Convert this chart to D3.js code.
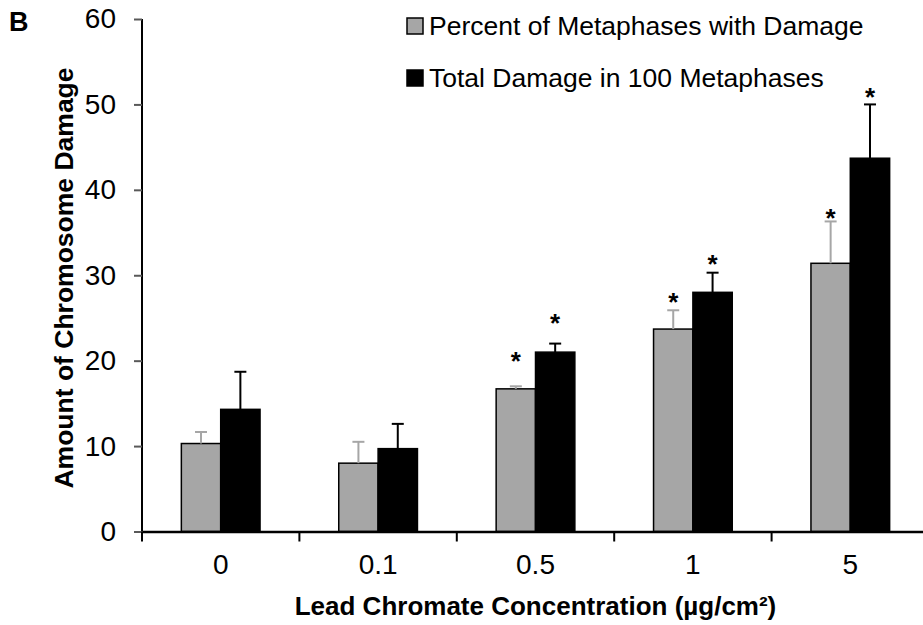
<!DOCTYPE html>
<html>
<head>
<meta charset="utf-8">
<script src="https://cdn.jsdelivr.net/npm/d3@7"></script>
<style>
    body { margin: 0; background: #fff; }
    svg { display: block; font-family: "Liberation Sans", Arial, sans-serif; }
</style>
</head>
<body>
<div id="chart"></div>
<script>
// Chromosome damage vs lead chromate concentration
const categories = ['0', '0.1', '0.5', '1', '5'];
const seriesNames = ['Percent of Metaphases with Damage', 'Total Damage in 100 Metaphases'];
const percentValues = [10.3, 8.0, 16.7, 23.7, 31.4];
const percentErrors = [1.35, 2.5, 0.3, 2.2, 4.9];
const totalValues = [14.3, 9.7, 21.0, 28.0, 43.7];
const totalErrors = [4.4, 2.9, 1.0, 2.3, 6.3];
// asterisk positions (value units), null = no mark
const percentStars = [null, null, 20.5, 27.5, 37.3];
const totalStars = [null, null, 25.0, 31.9, 51.4];
const yTicks = [0, 10, 20, 30, 40, 50, 60];

const width = 923, height = 625;
const plotLeft = 142, plotRight = 929, plotTop = 19, plotBottom = 531.5;

const fills = ['#a6a6a6', '#000000'];
const errColors = ['#a6a6a6', '#000000'];

const svg = d3.select('#chart').append('svg')
    .attr('width', width)
    .attr('height', height);

const x = d3.scaleBand().domain(categories).range([plotLeft, plotRight]);
const xSub = d3.scaleBand().domain([0, 1]).range([0, x.bandwidth()]).paddingOuter(1);
const y = d3.scaleLinear().domain([0, 60]).range([plotBottom, plotTop]);

const series = [
    { values: percentValues, errors: percentErrors, stars: percentStars },
    { values: totalValues, errors: totalErrors, stars: totalStars }
];

// bars
series.forEach((s, si) => {
    svg.append('g').selectAll('rect')
        .data(s.values)
        .join('rect')
        .attr('x', (d, i) => x(categories[i]) + xSub(si))
        .attr('y', d => y(d))
        .attr('width', xSub.bandwidth())
        .attr('height', d => plotBottom - y(d))
        .attr('fill', fills[si])
        .attr('stroke', '#000')
        .attr('stroke-width', 1.5);
});

// error bars
series.forEach((s, si) => {
    const g = svg.append('g').attr('stroke', errColors[si]).attr('stroke-width', 2);
    s.values.forEach((v, i) => {
        const cx = x(categories[i]) + xSub(si) + xSub.bandwidth() / 2;
        g.append('line')
            .attr('x1', cx).attr('x2', cx)
            .attr('y1', y(v)).attr('y2', y(v + s.errors[i]));
        g.append('line')
            .attr('x1', cx - 6).attr('x2', cx + 6)
            .attr('y1', y(v + s.errors[i])).attr('y2', y(v + s.errors[i]));
    });
});

// asterisks
series.forEach((s, si) => {
    s.stars.forEach((st, i) => {
        if (st === null) return;
        const cx = x(categories[i]) + xSub(si) + xSub.bandwidth() / 2;
        svg.append('text')
            .attr('x', cx)
            .attr('y', y(st) + 14)
            .attr('text-anchor', 'middle')
            .style('font-size', '26px')
            .style('font-weight', 'bold')
            .text('*');
    });
});

// y axis
const yAxis = svg.append('g')
    .attr('transform', `translate(${plotLeft},0)`)
    .call(d3.axisLeft(y).tickValues(yTicks).tickSize(8).tickPadding(18));
yAxis.select('.domain').attr('stroke', '#000').attr('stroke-width', 2)
    .attr('d', `M0,${plotTop}V${plotBottom}`);
yAxis.selectAll('.tick line').attr('stroke', '#595959').attr('stroke-width', 2);
yAxis.selectAll('.tick text').style('font-size', '28px').attr('fill', '#000')
    .attr('font-family', null);

// x axis
const xAxis = svg.append('g')
    .attr('transform', `translate(0,${plotBottom})`)
    .call(d3.axisBottom(x).tickSize(0).tickPadding(23));
xAxis.select('.domain').attr('stroke', '#000').attr('stroke-width', 2.5);
xAxis.selectAll('.tick text').style('font-size', '28px').attr('fill', '#000')
    .attr('font-family', null);
// boundary ticks between categories
const bounds = categories.map(c => x(c)).concat([x(categories[categories.length - 1]) + x.bandwidth()]);
svg.append('g').selectAll('line')
    .data(bounds)
    .join('line')
    .attr('x1', d => d).attr('x2', d => d)
    .attr('y1', plotBottom).attr('y2', plotBottom + 10)
    .attr('stroke', '#000').attr('stroke-width', 2);

// axis titles
svg.append('text')
    .attr('x', (plotLeft + plotRight) / 2)
    .attr('y', 615)
    .attr('text-anchor', 'middle')
    .style('font-size', '26px')
    .style('font-weight', 'bold')
    .text('Lead Chromate Concentration (µg/cm²)');

svg.append('text')
    .attr('transform', `translate(73,278) rotate(-90)`)
    .attr('text-anchor', 'middle')
    .style('font-size', '26.5px')
    .style('font-weight', 'bold')
    .text('Amount of Chromosome Damage');

// panel letter
svg.append('text')
    .attr('x', 9)
    .attr('y', 31)
    .style('font-size', '27px')
    .style('font-weight', 'bold')
    .text('B');

// legend
const legend = svg.append('g').attr('transform', 'translate(407,18)');
seriesNames.forEach((name, i) => {
    const row = legend.append('g').attr('transform', `translate(0,${i * 52})`);
    row.append('rect')
        .attr('width', 16).attr('height', 16)
        .attr('fill', fills[i])
        .attr('stroke', '#000').attr('stroke-width', 1.5);
    row.append('text')
        .attr('x', 22).attr('y', 17)
        .style('font-size', '26.5px')
        .text(name);
});
</script>
</body>
</html>
